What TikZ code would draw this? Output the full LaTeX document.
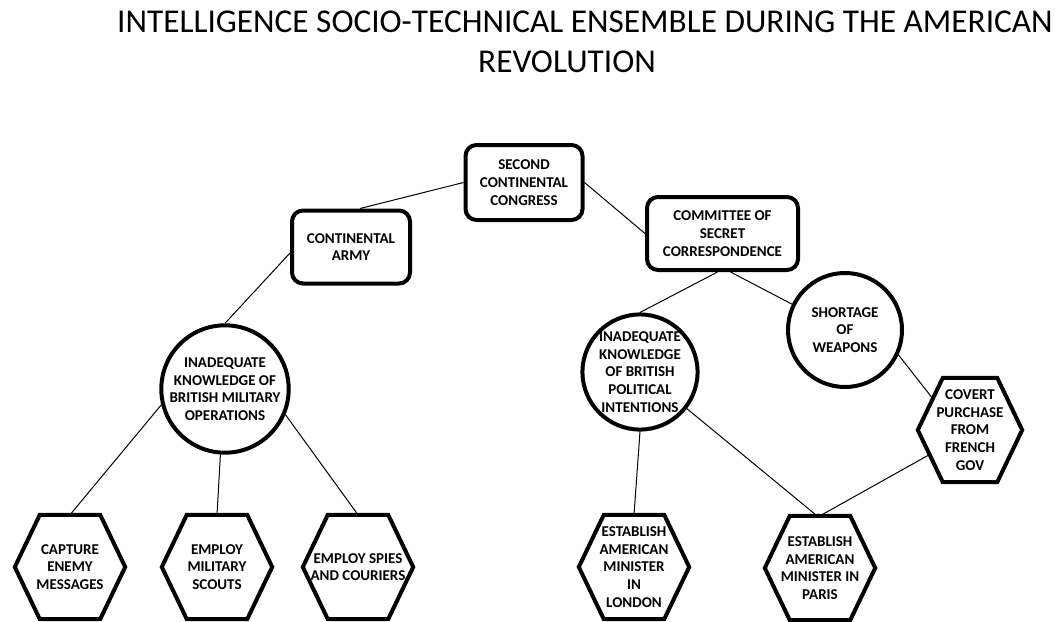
\documentclass[tikz,border=0pt]{standalone}
\usepackage{fontspec}
\setmainfont{Carlito}
\usetikzlibrary{calc}
% hexagon outline around an invisible rectangular node
\newcommand\hexframe[1]{%
  \draw[hexline] (#1.west) -- ([xshift=25pt]#1.north west) -- ([xshift=-25pt]#1.north east)
    -- (#1.east) -- ([xshift=-25pt]#1.south east) -- ([xshift=25pt]#1.south west) -- cycle;}
\begin{document}
\begin{tikzpicture}[x=1pt,y=-1pt,
  lbl/.style={font=\fontsize{15}{17.7}\selectfont\bfseries, align=center, text=black},
  boxnode/.style={lbl, draw, line width=4pt, rounded corners=11pt, inner sep=0pt},
  circnode/.style={lbl, draw, circle, line width=4pt, inner sep=0pt},
  hexnode/.style={lbl, minimum width=110pt, minimum height=104pt, inner sep=0pt},
  hexline/.style={line width=4pt, line join=miter},
  link/.style={line width=1pt}]
\useasboundingbox (0,0) rectangle (1059,621);

% title
\node[font=\fontsize{33.3}{40}\selectfont, anchor=base] (t1) at (585,32)
  {INTELLIGENCE SOCIO-TECHNICAL ENSEMBLE DURING THE AMERICAN};
\node[font=\fontsize{33.3}{40}\selectfont, anchor=base] (t2) at (567,72) {REVOLUTION};

% organisations
\node[boxnode, minimum width=117pt, minimum height=75pt] (cong) at (524,182.5)
  {SECOND\\CONTINENTAL\\CONGRESS};
\node[boxnode, minimum width=118pt, minimum height=73pt] (army) at (351,247)
  {CONTINENTAL\\ARMY};
\node[boxnode, minimum width=151pt, minimum height=73pt] (comm) at (722.5,233.5)
  {COMMITTEE OF\\SECRET\\CORRESPONDENCE};

% problems
\node[circnode, minimum size=118pt] (mil) at (225,389)
  {INADEQUATE\\KNOWLEDGE OF\\BRITISH MILITARY\\OPERATIONS};
\node[circnode, minimum size=112pt] (pol) at (640,372)
  {INADEQUATE\\KNOWLEDGE\\OF BRITISH\\POLITICAL\\INTENTIONS};
\node[circnode, minimum size=114pt] (sho) at (845,330)
  {SHORTAGE\\OF\\WEAPONS};

% responses
\node[hexnode] (cap) at (70,567) {CAPTURE\\ENEMY\\MESSAGES};
\node[hexnode] (sco) at (217,567) {EMPLOY\\MILITARY\\SCOUTS};
\node[hexnode] (spi) at (358,567) {EMPLOY SPIES\\AND COURIERS};
\node[hexnode] (lon) at (634,567) {ESTABLISH\\AMERICAN\\MINISTER\\IN\\LONDON};
\node[hexnode] (par) at (820,568) {ESTABLISH\\AMERICAN\\MINISTER IN\\PARIS};
\node[hexnode, minimum width=104pt] (cov) at (970,430)
  {COVERT\\PURCHASE\\FROM\\FRENCH\\GOV};
\hexframe{cap}\hexframe{sco}\hexframe{spi}\hexframe{lon}\hexframe{par}\hexframe{cov}

% connectors
\draw[link] (cong.west) -- ([xshift=9pt]army.north);
\draw[link] (cong.east) -- (comm.west);
\draw[link] ([yshift=-6pt]army.west) -- (mil.north);
\draw[link] (mil.194) -- (cap.north);
\draw[link] (mil.266) -- (sco.north);
\draw[link] (mil.337) -- (spi.north);
\draw[link] ([xshift=-5pt]comm.south) -- (pol.north);
\draw[link] ([xshift=8pt]comm.south) -- (sho.154);
\draw[link] (pol.south) -- (lon.north);
\draw[link] (pol.322) -- ([xshift=-3pt]par.north);
\draw[link] (sho.335) -- ($(cov.west)!0.6!([xshift=25pt]cov.north west)$);
\draw[link] ($(cov.west)!0.47!([xshift=25pt]cov.south west)$) -- (par.north);
\end{tikzpicture}
\end{document}
